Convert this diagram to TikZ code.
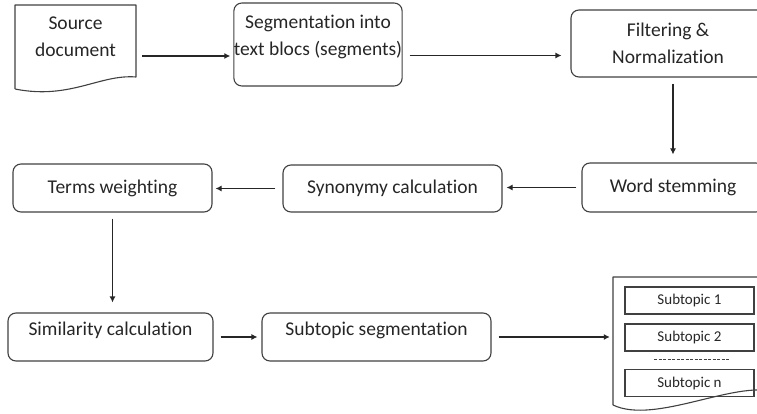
\documentclass[tikz,border=0pt]{standalone}
\usepackage{fontspec}
\setmainfont{Carlito}[Ligatures=NoCommon]
\usetikzlibrary{arrows.meta}

\begin{document}
\begin{tikzpicture}[x=1pt, y=-1pt,
        step box/.style={draw=black!75, line width=1.1pt, rounded corners=8pt, align=center,
            inner sep=0pt, font=\fontsize{19.5}{27}\selectfont, text=black!85},
        doc text/.style={align=center, inner sep=0pt, font=\fontsize{19.5}{27}\selectfont, text=black!85},
        doc line/.style={draw=black!75, line width=1.1pt, line join=round},
        topic box/.style={draw=black!75, line width=1.1pt, minimum width=129pt, minimum height=27pt,
            inner sep=0pt, font=\fontsize{15}{18}\selectfont, text=black!85},
        link/.style={-{Latex[length=6pt,width=6pt]}, line width=1.1pt, draw=black!85}]
    \clip (0,0) rectangle (757,414);

    % first row
    \node[doc text, minimum width=121pt, minimum height=64pt] (source) at (75.5,37) {Source\\document};
    \draw[doc line] (15,89) -- (15,5) -- (136,5) -- (136,77)
        .. controls (100,74) and (70,100) .. (15,89);

    \node[step box, minimum width=160pt, minimum height=83pt, text depth=19pt] (segment) at (318,44.5)
        {Segmentation into\\text blocs (segments)};
    \node[step box, minimum width=194pt, minimum height=67pt] (filter) at (668,43.5)
        {Filtering \&\\Normalization};

    % second row
    \node[step box, minimum width=182pt, minimum height=49pt] (stem) at (673,187.5) {Word stemming};
    \node[step box, minimum width=219pt, minimum height=47pt] (synonym) at (392.5,188.5) {Synonymy calculation};
    \node[step box, minimum width=199pt, minimum height=48pt] (weight) at (112.5,188) {Terms weighting};

    % third row
    \node[step box, minimum width=205pt, minimum height=48pt, text depth=16pt] (similar) at (110.5,337)
        {Similarity calculation};
    \node[step box, minimum width=229pt, minimum height=48pt, text depth=16pt] (subseg) at (376.5,337)
        {Subtopic segmentation};

    \node[minimum width=162pt, minimum height=128pt, inner sep=0pt] (output) at (694,341) {};
    \draw[doc line] (613,405) -- (613,277) -- (775,277) -- (775,392)
        .. controls (735,380) and (655,425) .. (613,405);
    \node[topic box] (topic1) at (689.5,300.5) {Subtopic 1};
    \node[topic box] (topic2) at (689.5,337.5) {Subtopic 2};
    \node[topic box] (topicn) at (689.5,383) {Subtopic n};
    \draw[draw=black!75, line width=0.8pt, dash pattern=on 3pt off 1.5pt] (654,359) -- (729,359);

    \draw[link, shorten <=6pt, shorten >=3pt] ([yshift=-19pt]source.east) -- ([yshift=-19pt]source.east -| segment.west);
    \draw[link, shorten <=7pt, shorten >=9pt] ([yshift=-11pt]segment.east) -- ([yshift=-11pt]segment.east -| filter.west);
    \draw[link, shorten <=6pt, shorten >=8pt] (filter.south -| stem.north) -- (stem.north);
    \draw[link, shorten <=5pt, shorten >=4pt] (stem.west) -- (stem.west -| synonym.east);
    \draw[link, shorten <=7pt, shorten >=3pt] (synonym.west) -- (synonym.west -| weight.east);
    \draw[link, shorten <=6pt, shorten >=10pt] (weight.south) -- (weight.south |- similar.north);
    \draw[link, shorten <=7pt, shorten >=4pt] (similar.east) -- (subseg.west);
    \draw[link, shorten <=7pt, shorten >=3pt] (subseg.east) -- (subseg.east -| output.west);
\end{tikzpicture}
\end{document}
